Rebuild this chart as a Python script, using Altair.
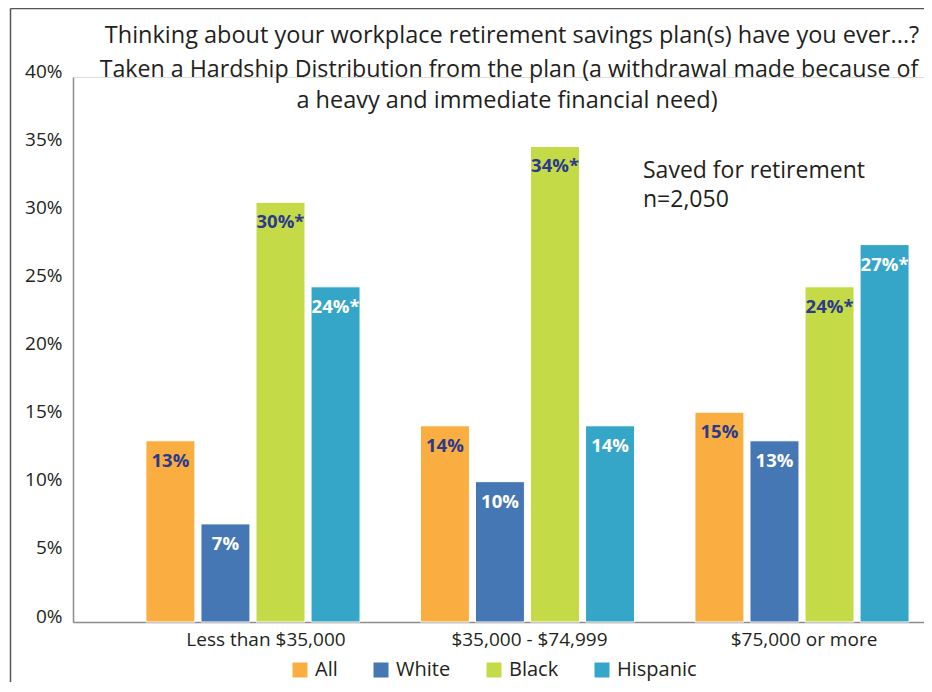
import altair as alt
import pandas as pd

groups = ["Less than $35,000", "$35,000 - $74,999", "$75,000 or more"]
series = ["All", "White", "Black", "Hispanic"]
colors = ["#FAAE42", "#4677B5", "#C5DA47", "#35A6C7"]
label_colors = {"All": "#2B3A8C", "White": "#FFFFFF", "Black": "#2B3A8C", "Hispanic": "#FFFFFF"}

values_all = [13.3, 14.4, 15.4]
values_white = [7.2, 10.3, 13.3]
values_black = [30.8, 34.9, 24.6]
values_hispanic = [24.6, 14.4, 27.7]

labels_all = ["13%", "14%", "15%"]
labels_white = ["7%", "10%", "13%"]
labels_black = ["30%*", "34%*", "24%*"]
labels_hispanic = ["24%*", "14%", "27%*"]

title_lines = ["Thinking about your workplace retirement savings plan(s) have you ever...?",
               "Taken a Hardship Distribution from the plan (a withdrawal made because of",
               "a heavy and immediate financial need)"]
note_lines = ["Saved for retirement", "n=2,050"]
y_ticks = [0, 5, 10, 15, 20, 25, 30, 35, 40]

FONT = "Open Sans"
TEXT = "#231F20"

rows = []
for s, vals, labs in [("All", values_all, labels_all), ("White", values_white, labels_white),
                      ("Black", values_black, labels_black), ("Hispanic", values_hispanic, labels_hispanic)]:
    for g, v, l in zip(groups, vals, labs):
        rows.append({"group": g, "series": s, "value": v, "label": l, "lc": label_colors[s]})
df = pd.DataFrame(rows)

x_enc = alt.X("group:N", sort=groups, title=None,
              scale=alt.Scale(paddingInner=0.22, paddingOuter=0.16, align=0.83),
              axis=alt.Axis(labelAngle=0, ticks=False, domainColor="#8C8C8C", domainWidth=1.5,
                            labelFont=FONT, labelFontSize=19, labelColor=TEXT, labelPadding=8,
                            labelOffset={"condition": {"test": "datum.value === 'Less than $35,000'", "value": 13}, "value": 2}))
xo_enc = alt.XOffset("series:N", sort=series, scale=alt.Scale(paddingInner=0.11, paddingOuter=0))
y_enc = alt.Y("value:Q", title=None, scale=alt.Scale(domain=[0, 40]),
              axis=alt.Axis(values=y_ticks, labelExpr="datum.value + '%'", grid=False, ticks=False,
                            domainColor="#8C8C8C", domainWidth=1.5, labelFont=FONT, labelFontSize=19,
                            labelColor=TEXT, labelPadding=11, labelBaseline="alphabetic"))

base = alt.Chart(df).encode(x=x_enc, xOffset=xo_enc)

bars = base.mark_bar(stroke="white", strokeWidth=1).encode(
    y=y_enc,
    color=alt.Color("series:N", sort=series, scale=alt.Scale(domain=series, range=colors),
                    legend=alt.Legend(title=None, orient="none", legendX=217, legendY=583,
                                      direction="horizontal", symbolType="square", symbolSize=225,
                                      symbolStrokeWidth=0, labelFont=FONT, labelFontSize=20,
                                      labelColor=TEXT, labelOffset=5, columnPadding=33)),
)

texts = base.mark_text(font=FONT, fontWeight="bold", fontSize=18.5, baseline="alphabetic", dy=26).encode(
    y="value:Q", text="label:N", color=alt.Color("lc:N", scale=None))


def text_line(t, x, y, size, align):
    return alt.Chart(pd.DataFrame({"t": [t]})).mark_text(
        font=FONT, fontSize=size, color=TEXT, align=align, baseline="alphabetic").encode(
        text="t:N", x=alt.value(x), y=alt.value(y))


title1 = text_line(title_lines[0], 439, -34, 23.5, "center")
title2 = text_line(title_lines[1], 436, 0, 23.2, "center")
title3 = text_line(title_lines[2], 434, 31, 23.5, "center")
note1 = text_line(note_lines[0], 570, 101, 23, "left")
note2 = text_line(note_lines[1], 570, 130, 23, "left")

frame_left = alt.Chart(pd.DataFrame({"a": [0]})).mark_rule(color="#555555", strokeWidth=1.5).encode(
    x=alt.value(-62.5), y=alt.value(-68.5), y2=alt.value(620))
frame_top = alt.Chart(pd.DataFrame({"a": [0]})).mark_rule(color="#555555", strokeWidth=1.5).encode(
    x=alt.value(-62.5), x2=alt.value(860), y=alt.value(-68.5))

chart = alt.layer(bars, texts, title1, title2, title3, note1, note2, frame_left, frame_top).properties(
    width=851, height=545,
    autosize=alt.AutoSizeParams(type="none"),
    padding={"left": 65, "top": 69, "right": 0, "bottom": 60},
).configure_view(stroke="transparent", strokeWidth=0, strokeOpacity=0).configure(background="white")

chart.save("out.html", embed_options={"renderer": "svg", "actions": False})
